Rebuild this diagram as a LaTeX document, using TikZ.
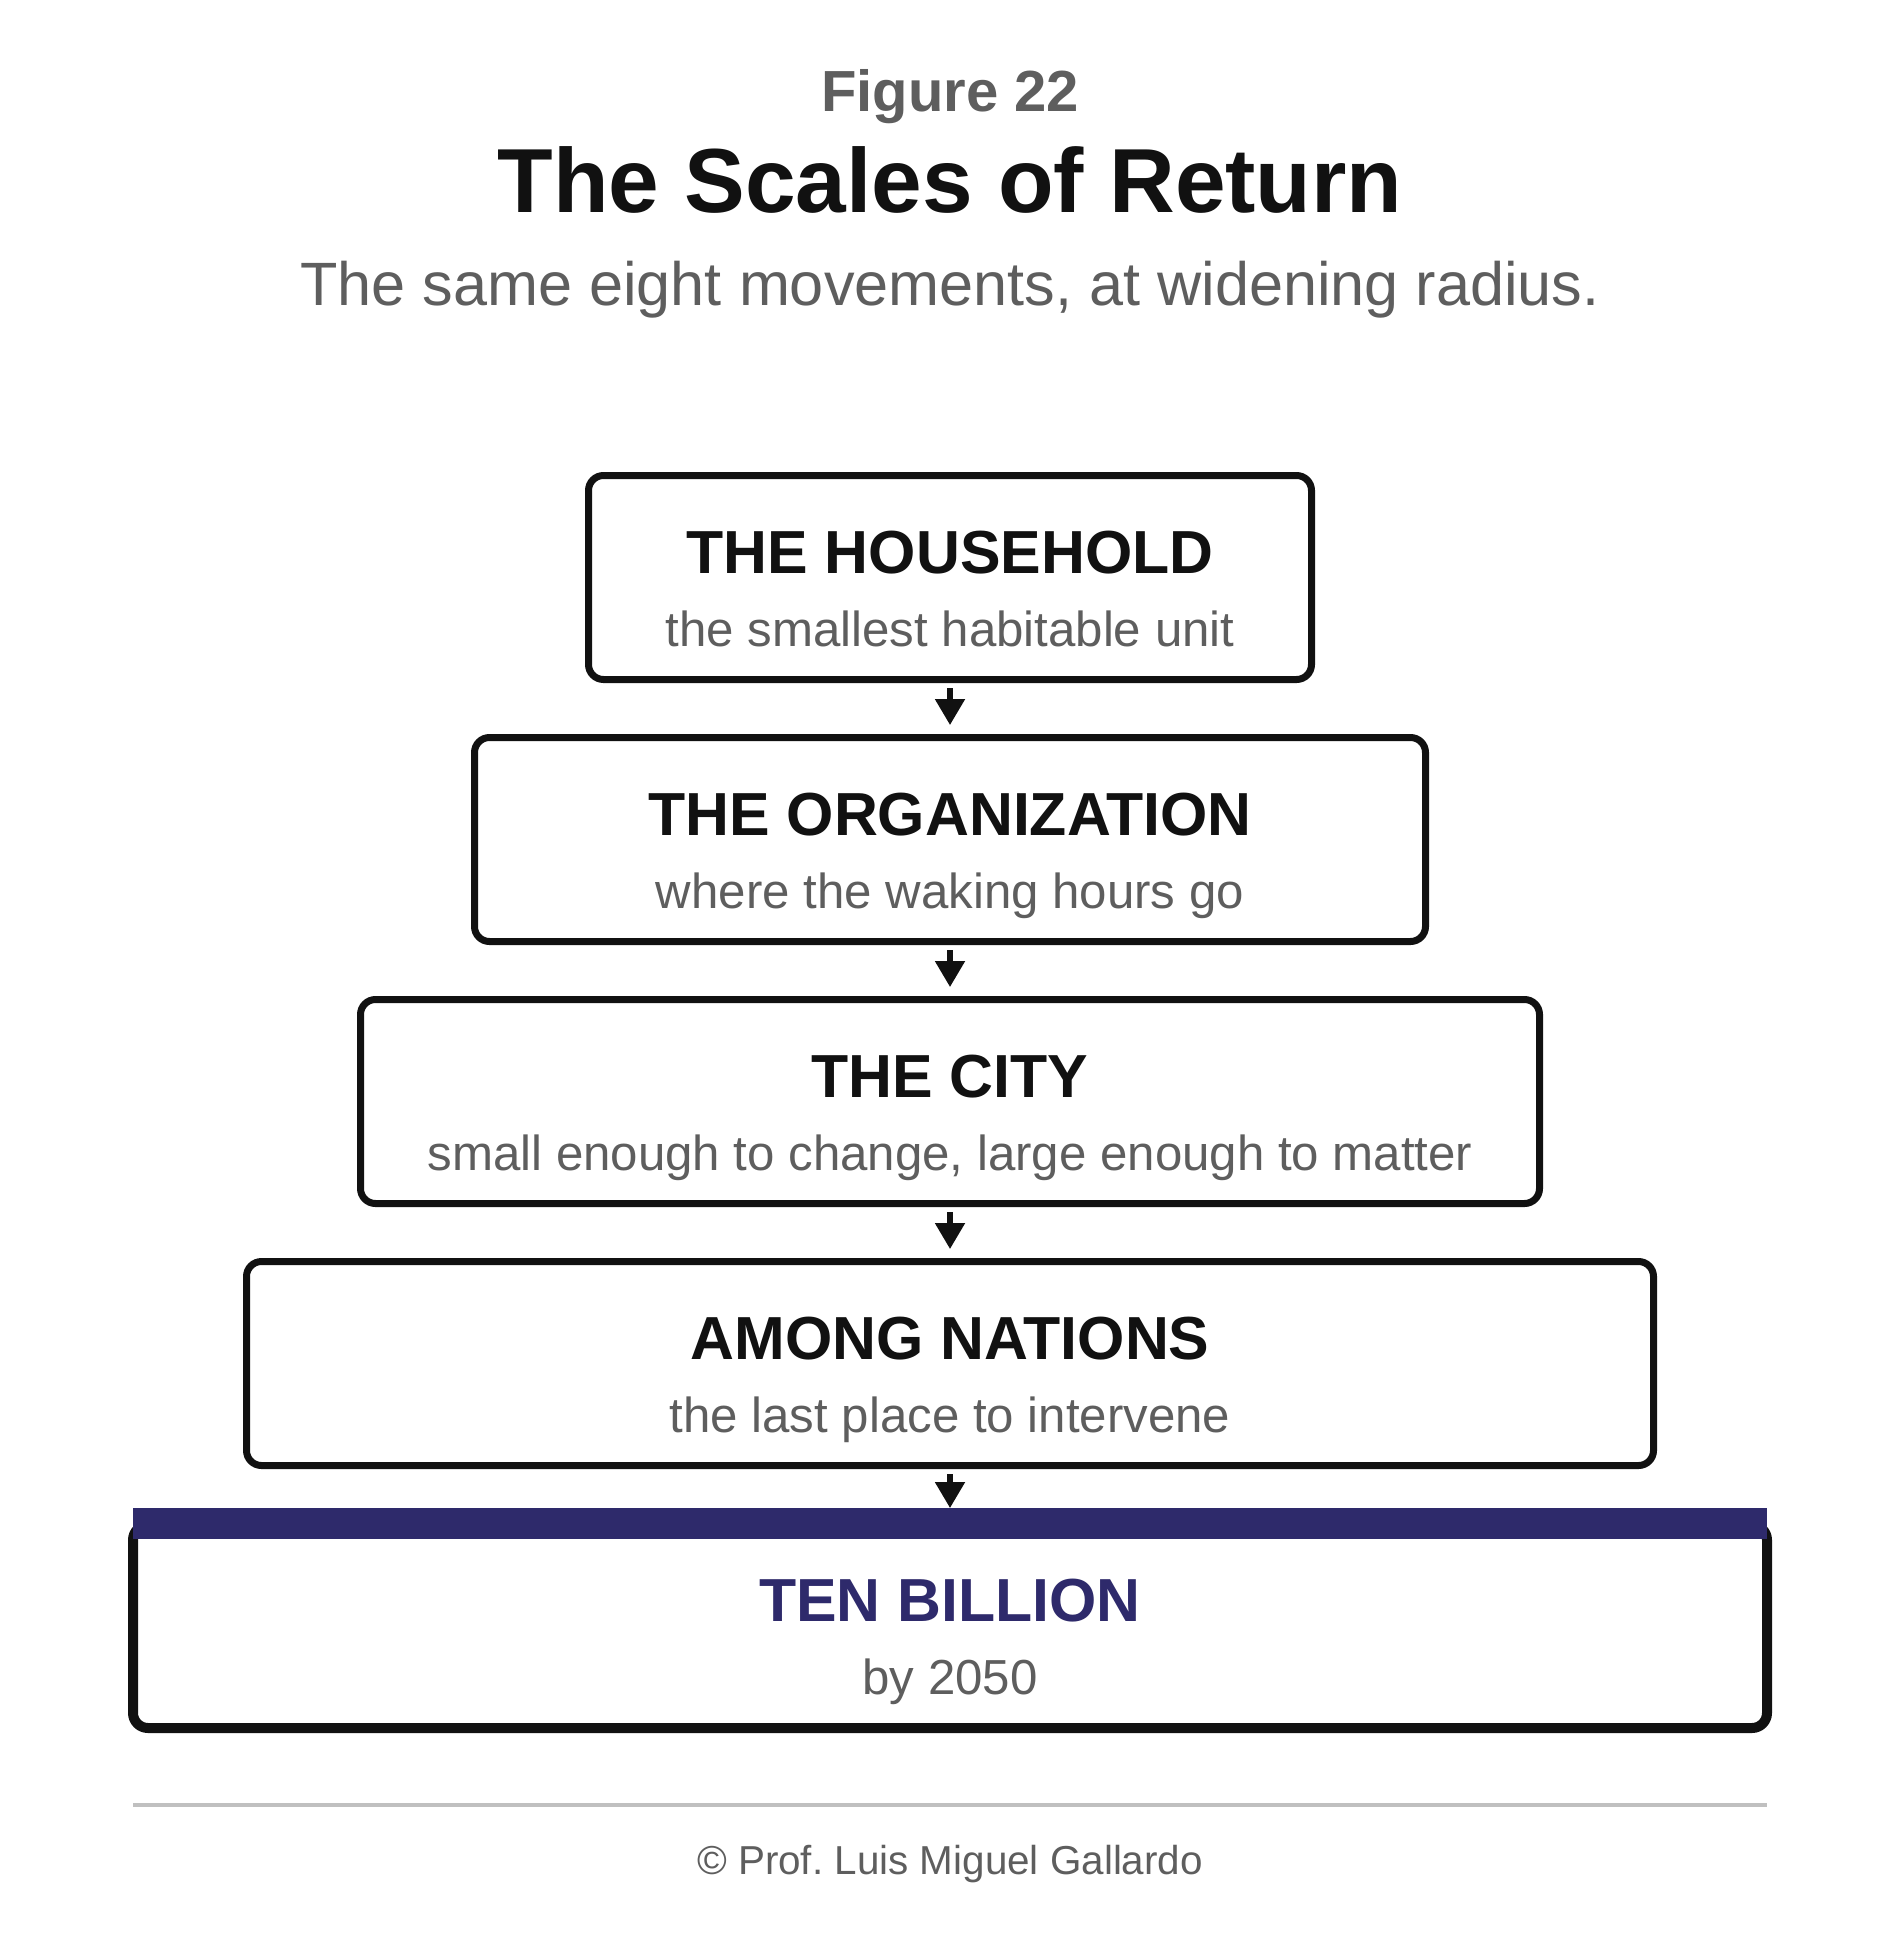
\documentclass[tikz,border=0pt]{standalone}
\usepackage{fontspec}
\setmainfont{Liberation Sans}
\usetikzlibrary{arrows.meta}
\definecolor{ink}{HTML}{111111}
\definecolor{mute}{HTML}{5E5E5E}
\definecolor{navy}{HTML}{2E2A6B}
\definecolor{rulegrey}{HTML}{C0C0C0}
\frenchspacing
\begin{document}
\begin{tikzpicture}[x=0.5pt,y=-0.5pt,
  box/.style={draw=ink, line width=3.5pt, rounded corners=7.5pt, minimum height=102pt, inner sep=0pt, fill=white},
  lastbox/.style={box, line width=5pt, minimum height=101.5pt},
  bar/.style={fill=navy, draw=none, inner sep=0pt, outer sep=0pt, minimum width=817pt, minimum height=15.5pt},
  head/.style={anchor=base, text=ink, font=\bfseries\fontsize{30.4}{36}\selectfont, inner sep=0pt},
  sub/.style={anchor=base, text=mute, font=\fontsize{24.6}{30}\selectfont, inner sep=0pt},
  link/.style={draw=ink, line width=2.6pt, -{Triangle[width=14.5pt,length=13pt]}, shorten <=2.5pt, shorten >=4.5pt},
  lastlink/.style={link, shorten >=0pt},
]
\useasboundingbox (0,0) rectangle (1900,1938);

% header
\node[anchor=base, inner sep=0pt, text=mute, font=\bfseries\fontsize{29}{34}\selectfont] (fig) at (950,111) {Figure 22};
\node[anchor=base, inner sep=0pt, text=ink, font=\bfseries\fontsize{45.5}{54}\selectfont] (title) at (950,212) {The Scales of Return};
\node[anchor=base, inner sep=0pt, text=mute, font=\fontsize{30.6}{36}\selectfont] (subtitle) at (950,305) {The same eight movements, at widening radius.};

% boxes
\node[box, minimum width=361.5pt] (b1) at (950,577.5) {};
\node[box, minimum width=475.5pt] (b2) at (950,839.5) {};
\node[box, minimum width=589.5pt] (b3) at (950,1101.5) {};
\node[box, minimum width=703.5pt] (b4) at (950,1363.5) {};
\node[lastbox, minimum width=817pt] (b5) at (950,1626.5) {};
\node[bar] (bar) at (950,1523.5) {};

% texts
\node[head] (t1) at (950,573) {THE HOUSEHOLD};
\node[sub] (s1) at (950,646) {the smallest habitable unit};
\node[head] (t2) at (950,835) {THE ORGANIZATION};
\node[sub] (s2) at (950,908) {where the waking hours go};
\node[head] (t3) at (950,1097) {THE CITY};
\node[sub] (s3) at (950,1170) {small enough to change, large enough to matter};
\node[head] (t4) at (950,1359) {AMONG NATIONS};
\node[sub] (s4) at (950,1432) {the last place to intervene};
\node[head, text=navy] (t5) at (950,1621) {TEN BILLION};
\node[sub] (s5) at (950,1694) {by 2050};

% connectors
\draw[link] (b1.south) -- (b2.north);
\draw[link] (b2.south) -- (b3.north);
\draw[link] (b3.south) -- (b4.north);
\draw[lastlink] (b4.south) -- (bar.north);

% footer
\coordinate (r1) at (133,1805);
\coordinate (r2) at (1767,1805);
\draw[rulegrey, line width=2pt] (r1) -- (r2);
\node[anchor=base, inner sep=0pt, text=mute, font=\fontsize{20.2}{24}\selectfont] (foot) at (950,1874) {© Prof.\ Luis Miguel Gallardo};
\end{tikzpicture}
\end{document}
